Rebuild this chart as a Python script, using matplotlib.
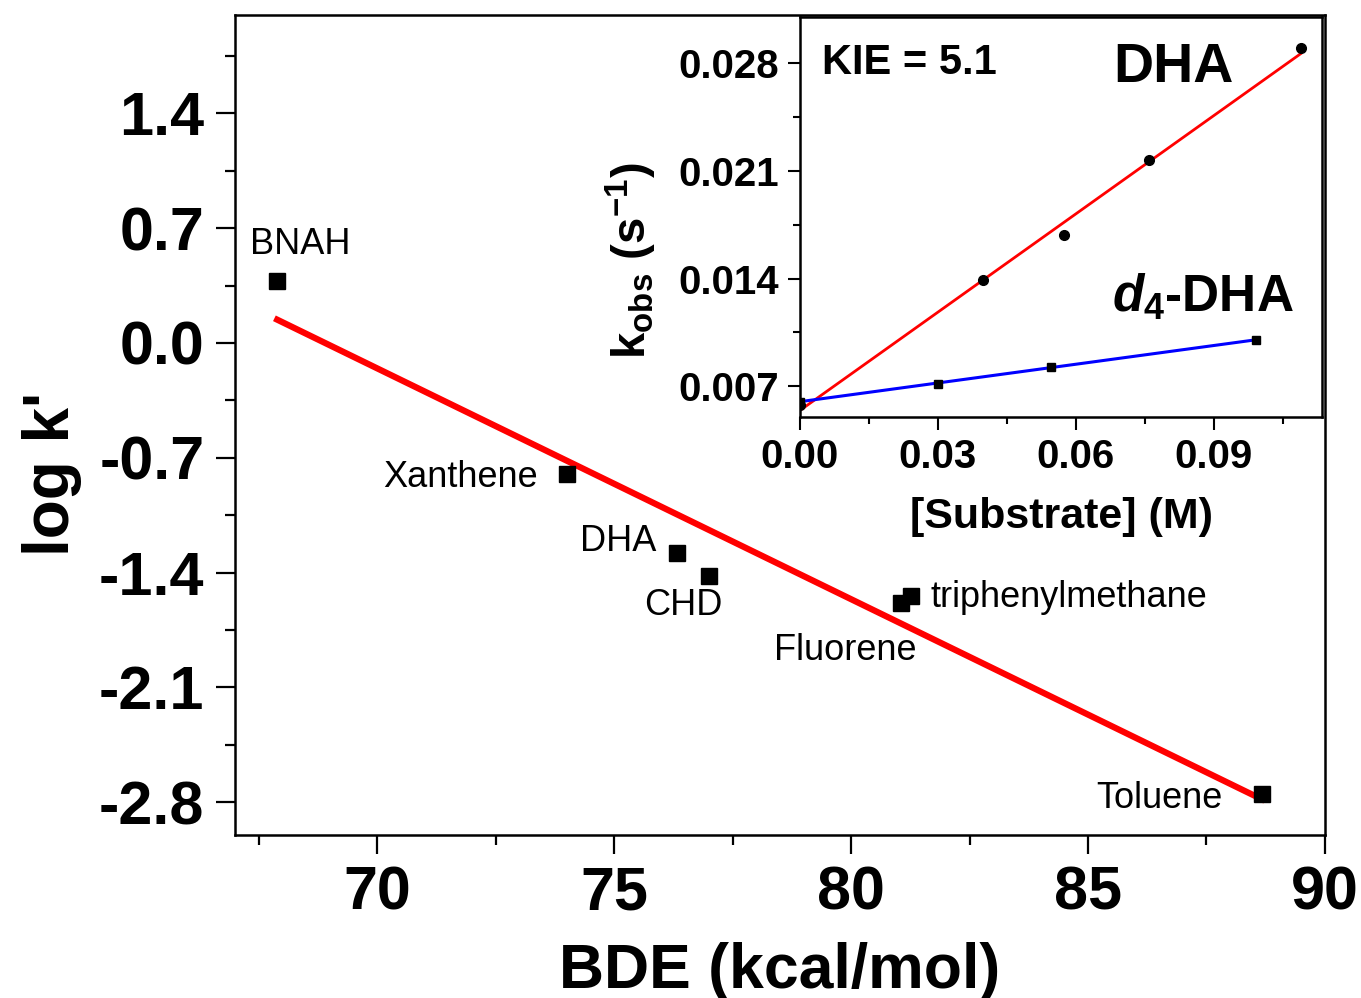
import numpy as np
import matplotlib
matplotlib.use("Agg")
import matplotlib.pyplot as plt
from matplotlib.ticker import MultipleLocator, FormatStrFormatter

plt.rcParams['font.family'] = ['Liberation Sans', 'DejaVu Sans']
plt.rcParams['mathtext.fontset'] = 'custom'
plt.rcParams['mathtext.rm'] = 'Liberation Sans:bold'
plt.rcParams['mathtext.bf'] = 'Liberation Sans:bold'
plt.rcParams['mathtext.it'] = 'Liberation Sans:bold:italic'

# 主图数据: BDE vs log k'
names = ["BNAH", "Xanthene", "DHA", "CHD", "Fluorene", "triphenylmethane", "Toluene"]
bde = [67.89, 74.01, 76.32, 77.0, 81.05, 81.26, 88.67]
logk = [0.377, -0.80, -1.278, -1.418, -1.583, -1.54, -2.75]

# 标签位置 (数据坐标)
label_x = [67.32, 73.38, 75.90, 76.45, 79.88, 81.68, 87.83]
label_y = [0.60, -0.82, -1.21, -1.60, -1.875, -1.55, -2.78]
label_ha = ["left", "right", "right", "center", "center", "left", "right"]

# 插图数据: kobs vs [Substrate]
dha_c = [0.0, 0.0398, 0.0574, 0.0759, 0.1089]
dha_k = [0.0058, 0.0139, 0.0168, 0.0217, 0.0290]
d4_c = [0.0, 0.030, 0.0546, 0.0991]
d4_k = [0.0060, 0.00717, 0.00826, 0.0100]

fig = plt.figure(figsize=(13.61, 9.98), dpi=100)
ax = fig.add_axes([0.1727, 0.1633, 0.8008, 0.8217])

ax.plot(bde, logk, 's', color='black', markersize=12, zorder=3)
p = np.polyfit(bde, logk, 1)
xf = np.array([min(bde), max(bde)])
ax.plot(xf, np.polyval(p, xf), '-', color='#ff0000', linewidth=4.5, zorder=2)

for n, tx, ty, ha in zip(names, label_x, label_y, label_ha):
    ax.text(tx, ty, n, ha=ha, va='center', fontsize=26)

ax.set_xlim(67, 90)
ax.set_ylim(-3.0, 2.0)
ax.xaxis.set_major_locator(MultipleLocator(5))
ax.xaxis.set_minor_locator(MultipleLocator(2.5))
ax.set_yticks([-2.8, -2.1, -1.4, -0.7, 0.0, 0.7, 1.4])
ax.set_yticks([-2.45, -1.75, -1.05, -0.35, 0.35, 1.05, 1.75], minor=True)
ax.yaxis.set_major_formatter(FormatStrFormatter('%.1f'))
ax.tick_params(which='major', direction='out', length=14, width=1.6, pad=8,
               labelsize=44)
ax.tick_params(which='minor', direction='out', length=7, width=1.6)
for lab in ax.get_xticklabels() + ax.get_yticklabels():
    lab.set_fontweight('bold')
for s in ax.spines.values():
    s.set_linewidth(1.8)
ax.set_xlabel('BDE (kcal/mol)', fontsize=45, fontweight='bold')
ax.xaxis.set_label_coords(0.5, -0.13)
ax.set_ylabel("log k'", fontsize=46, fontweight='bold')
ax.yaxis.set_label_coords(-0.14, 0.44)

# 插图
ins = fig.add_axes([0.5878, 0.5822, 0.3836, 0.4008])
ins.plot(dha_c, dha_k, 'o', color='black', markersize=7, zorder=3)
pd_ = np.polyfit(dha_c, dha_k, 1)
xd = np.array([0, max(dha_c)])
ins.plot(xd, np.polyval(pd_, xd), '-', color='#ff0000', linewidth=2, zorder=2)
ins.plot(d4_c, d4_k, 's', color='black', markersize=6, zorder=3)
p4 = np.polyfit(d4_c, d4_k, 1)
x4 = np.array([0, max(d4_c)])
ins.plot(x4, np.polyval(p4, x4), '-', color='#0000ff', linewidth=2.2, zorder=2)

ins.set_xlim(0, 0.1135)
ins.set_ylim(0.005, 0.031)
ins.set_xticks([0.0, 0.03, 0.06, 0.09])
ins.set_xticks([0.015, 0.045, 0.075, 0.105], minor=True)
ins.set_yticks([0.007, 0.014, 0.021, 0.028])
ins.set_yticks([0.0105, 0.0175, 0.0245], minor=True)
ins.xaxis.set_major_formatter(FormatStrFormatter('%.2f'))
ins.yaxis.set_major_formatter(FormatStrFormatter('%.3f'))
ins.tick_params(which='major', direction='out', length=9, width=1.5, pad=6,
                labelsize=29)
ins.tick_params(which='minor', direction='out', length=5, width=1.5)
for lab in ins.get_xticklabels() + ins.get_yticklabels():
    lab.set_fontweight('bold')
for s in ins.spines.values():
    s.set_linewidth(1.8)
ins.set_xlabel('[Substrate] (M)', fontsize=31, fontweight='bold', labelpad=15)
ins.set_ylabel(r'k$_{\mathregular{obs}}$ (s$^{\mathregular{-1}}$)', fontsize=34,
               fontweight='bold')
ins.yaxis.set_label_coords(-0.27, 0.39)

ins.text(0.042, 0.885, 'KIE = 5.1', transform=ins.transAxes, ha='left',
         va='center', fontsize=30, fontweight='bold')
ins.text(0.715, 0.873, 'DHA', transform=ins.transAxes, ha='center',
         va='center', fontsize=40, fontweight='bold')
ins.text(0.598, 0.30, r'$\mathit{d}_{\mathit{4}}$-DHA', transform=ins.transAxes,
         ha='left', va='center', fontsize=37, fontweight='bold')

fig.savefig('out.png', dpi=100)
